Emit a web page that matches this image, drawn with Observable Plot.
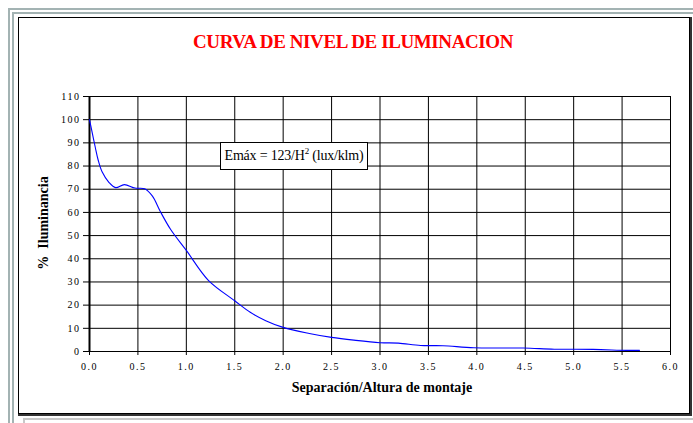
<!DOCTYPE html>
<html>
<head>
<meta charset="utf-8">
<script src="https://cdn.jsdelivr.net/npm/d3@7"></script>
<script src="https://cdn.jsdelivr.net/npm/@observablehq/plot@0.6"></script>
<style>
  html, body { margin:0; padding:0; background:#fff; width:693px; height:423px; overflow:hidden; }
  #wrap { position:relative; width:693px; height:423px; font-family:"Liberation Serif", "Times New Roman", serif; }
  #chart { position:absolute; left:0; top:0; }
  .abs { position:absolute; pointer-events:none; }
  #outer { left:8px; top:8px; width:800px; height:800px; border:6px double #a3b3b3; box-sizing:border-box; }
  #inner { left:18px; top:17px; width:672px; height:397px; border:1px solid #000; box-shadow:1px 1px 0 1px #333; box-sizing:border-box; }
  #under { left:23px; top:418px; width:700px; height:20px; border-top:2px solid #c8c8c8; border-left:2px solid #c8c8c8; }
  #title { left:0; top:31px; width:706px; text-align:center; color:#ff0000; font-family:"Liberation Serif", serif; font-weight:bold; font-size:19px; letter-spacing:-0.4px; white-space:nowrap; }
  #xlabel { left:0; top:380px; width:764px; text-align:center; font-weight:bold; font-size:14px; white-space:nowrap; }
  #ylabel { left:44px; top:223px; transform:translate(-50%,-50%) rotate(-90deg); font-weight:bold; font-size:14px; white-space:nowrap; }
  #note { left:220px; top:142px; width:148px; height:28px; border:1px solid #000; background:#fff; box-sizing:border-box; font-size:14px; line-height:26px; text-align:center; white-space:nowrap; letter-spacing:-0.2px; }
  #note sup { font-size:9px; vertical-align:6px; line-height:0; }
  svg text { font-family:"Liberation Serif", "Times New Roman", serif; }
  svg [aria-label="x-axis tick label"] text, svg [aria-label="y-axis tick label"] text { letter-spacing:1.5px; }
</style>
</head>
<body>
<div id="wrap">
  <div id="chart"></div>
  <div class="abs" id="outer"></div>
  <div class="abs" id="inner"></div>
  <div class="abs" id="under"></div>
  <div class="abs" id="title">CURVA DE NIVEL DE ILUMINACION</div>
  <div class="abs" id="xlabel">Separación/Altura de montaje</div>
  <div class="abs" id="ylabel">%&nbsp; Iluminancia</div>
  <div class="abs" id="note">Emáx = 123/H<sup>2</sup> (lux/klm)</div>
</div>
<script>
// Separación/Altura de montaje
const separacion = [0, 0.03, 0.06, 0.09, 0.13, 0.2, 0.27, 0.36, 0.47, 0.57, 0.65, 0.73, 0.84, 1.0, 1.23, 1.5, 1.66, 1.82, 2.0, 2.27, 2.5, 2.73, 3.0, 3.19, 3.42, 3.65, 3.97, 4.48, 4.8, 5.2, 5.55, 5.68];
// % Iluminancia
const iluminancia = [100, 94, 88, 82.5, 77.5, 73, 70.7, 72, 70.5, 70.2, 67, 60.5, 52.5, 43.6, 30.6, 21.9, 16.9, 13.3, 10.4, 7.8, 6.1, 4.9, 3.8, 3.6, 2.6, 2.5, 1.6, 1.5, 1.0, 0.9, 0.5, 0.5];
const xTicks = [0, 0.5, 1, 1.5, 2, 2.5, 3, 3.5, 4, 4.5, 5, 5.5, 6];
const yTicks = [0, 10, 20, 30, 40, 50, 60, 70, 80, 90, 100, 110];

const data = separacion.map((x, i) => ({x, y: iluminancia[i]}));

const chart = Plot.plot({
  width: 693,
  height: 423,
  marginLeft: 89,
  marginRight: 23,
  marginTop: 96,
  marginBottom: 72,
  style: {fontFamily: "Liberation Serif, serif", background: "transparent", color: "#000"},
  x: {domain: [0, 6], label: null},
  y: {domain: [0, 110], label: null},
  marks: [
    Plot.gridX(xTicks, {stroke: "#000", strokeOpacity: 1, strokeWidth: 1}),
    Plot.gridY(yTicks, {stroke: "#000", strokeOpacity: 1, strokeWidth: 1}),
    Plot.frame({stroke: "#000"}),
    Plot.ruleX([0], {stroke: "#000", strokeWidth: 2}),
    Plot.axisX(xTicks, {tickSize: 4, tickPadding: 7, fontSize: 10, tickFormat: d => d.toFixed(1), label: null}),
    Plot.axisY(yTicks, {tickSize: 6, tickPadding: 3, fontSize: 10, label: null}),
    Plot.line(data, {x: "x", y: "y", stroke: "#0000ff", strokeWidth: 1.1, curve: "catmull-rom"})
  ]
});
document.getElementById("chart").appendChild(chart);
</script>
</body>
</html>
